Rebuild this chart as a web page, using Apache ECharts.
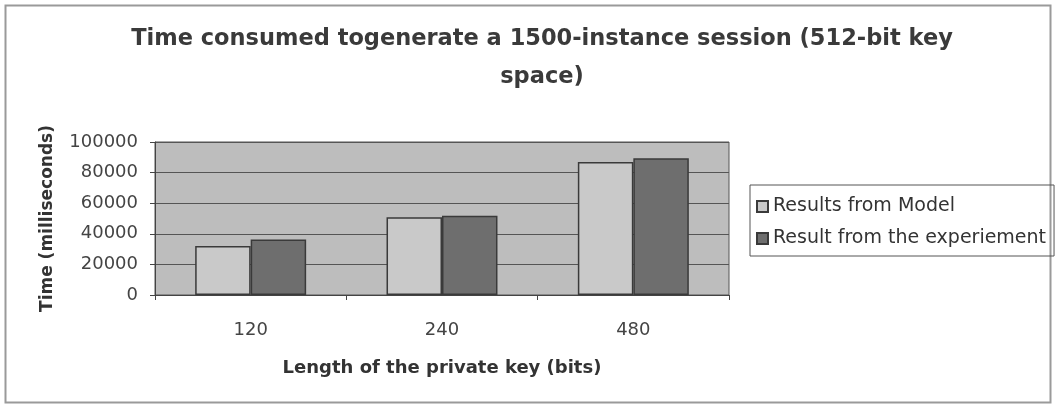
<!DOCTYPE html>
<html>
<head>
<meta charset="utf-8">
<script src="https://cdn.jsdelivr.net/npm/echarts@6/dist/echarts.min.js"></script>
<style>
  html, body { margin: 0; padding: 0; background: #fff; }
  #main { width: 1056px; height: 407px; }
</style>
</head>
<body>
<div id="main"></div>
<script>
var keyLengths = ["120", "240", "480"];
var modelTimes = [32000, 50800, 87000];
var experimentTimes = [36300, 51800, 89300];
var seriesNames = ["Results from Model", "Result from the experiement"];

var myChart = echarts.init(document.getElementById("main"));

var fontFamily = "DejaVu Sans, Arial, sans-serif";

myChart.setOption({
  backgroundColor: "#fff",
  animation: false,
  graphic: [
    {
      type: "rect",
      shape: { x: 5.5, y: 5.5, width: 1045, height: 397 },
      style: { fill: "none", stroke: "#9a9a9a", lineWidth: 2 },
      silent: true
    }
  ],
  title: {
    text: "Time consumed togenerate a 1500-instance session (512-bit key\nspace)",
    left: 537,
    top: 15,
    textAlign: "center",
    textStyle: {
      fontFamily: fontFamily,
      fontSize: 22.5,
      fontWeight: "bold",
      color: "#3a3a3a",
      lineHeight: 38
    }
  },
  legend: {
    orient: "vertical",
    left: 750,
    top: 185,
    padding: [12, 8, 8, 6],
    itemGap: 13,
    itemWidth: 11,
    itemHeight: 11,
    borderColor: "#555",
    borderWidth: 1,
    icon: "rect",
    textStyle: { fontFamily: fontFamily, fontSize: 19, color: "#333" },
    data: seriesNames
  },
  grid: {
    left: 155,
    top: 142,
    width: 574,
    height: 153,
    show: true,
    backgroundColor: "#bdbdbd",
    borderColor: "#555",
    borderWidth: 1
  },
  xAxis: {
    type: "category",
    data: keyLengths,
    name: "Length of the private key (bits)",
    nameLocation: "middle",
    nameGap: 64,
    nameTextStyle: { fontFamily: fontFamily, fontSize: 18, fontWeight: "bold", color: "#333" },
    axisLine: { lineStyle: { color: "#444", width: 1 } },
    axisTick: { show: true, length: 5, lineStyle: { color: "#444" } },
    axisLabel: { fontFamily: fontFamily, fontSize: 18, color: "#444", margin: 26 }
  },
  yAxis: {
    type: "value",
    min: 0,
    max: 100000,
    interval: 20000,
    name: "Time (milliseconds)",
    nameLocation: "middle",
    nameGap: 99,
    nameTextStyle: { fontFamily: fontFamily, fontSize: 17, fontWeight: "bold", color: "#333" },
    axisLine: { show: true, lineStyle: { color: "#444" } },
    axisTick: { show: true, length: 5, lineStyle: { color: "#444" } },
    axisLabel: {
      fontFamily: fontFamily,
      fontSize: 18,
      color: "#444",
      margin: 17,
      formatter: function (v) { return String(v); }
    },
    splitLine: { lineStyle: { color: "#555", width: 1 } }
  },
  series: [
    {
      name: seriesNames[0],
      type: "bar",
      data: modelTimes,
      barGap: "0%",
      barCategoryGap: "42%",
      itemStyle: { color: "#c9c9c9", borderColor: "#3a3a3a", borderWidth: 1.5 }
    },
    {
      name: seriesNames[1],
      type: "bar",
      data: experimentTimes,
      itemStyle: { color: "#6e6e6e", borderColor: "#3a3a3a", borderWidth: 1.5 }
    }
  ]
});
</script>
</body>
</html>
